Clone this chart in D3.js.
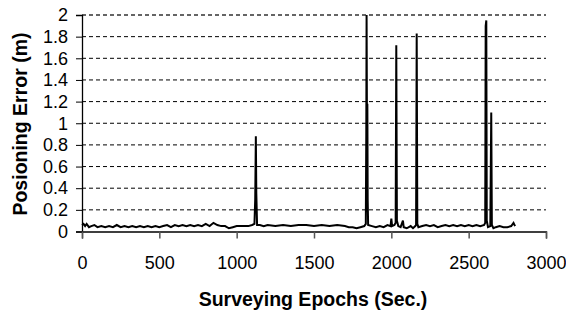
<!DOCTYPE html>
<html><head><meta charset="utf-8">
<script src="https://cdn.jsdelivr.net/npm/d3@7"></script>
<style>body{margin:0;background:#fff}svg{display:block}</style>
</head><body>
<script>
const epochs = [0,10,20,30,45,60,80,100,125,150,175,200,225,250,275,300,325,350,375,400,425,450,475,500,525,550,575,600,625,650,675,700,725,750,775,800,825,850,875,900,925,950,975,1000,1025,1050,1075,1100,1115,1120,1124,1127,1132,1150,1175,1200,1250,1300,1350,1400,1450,1500,1550,1600,1650,1700,1725,1750,1775,1800,1825,1835,1838,1840,1842,1845,1847,1850,1875,1900,1925,1950,1975,1995,2000,2005,2020,2028,2032,2036,2045,2060,2075,2080,2100,2125,2140,2155,2160,2164,2168,2175,2200,2225,2250,2275,2300,2325,2350,2375,2400,2425,2450,2475,2500,2525,2550,2575,2600,2607,2610,2614,2617,2625,2640,2646,2650,2660,2675,2700,2725,2750,2775,2790,2800];
const errors = [0.06,0.07,0.05,0.07,0.04,0.05,0.06,0.04,0.05,0.04,0.05,0.04,0.06,0.04,0.05,0.04,0.05,0.04,0.05,0.04,0.05,0.04,0.05,0.04,0.05,0.06,0.04,0.06,0.05,0.06,0.05,0.06,0.05,0.06,0.05,0.07,0.05,0.08,0.06,0.05,0.05,0.03,0.04,0.05,0.05,0.05,0.05,0.06,0.07,0.3,0.88,0.35,0.06,0.06,0.05,0.06,0.05,0.06,0.05,0.06,0.06,0.05,0.06,0.05,0.06,0.05,0.04,0.04,0.03,0.04,0.05,0.07,0.9,2.0,1.17,1.17,0.3,0.06,0.05,0.04,0.05,0.04,0.06,0.05,0.12,0.05,0.06,0.08,1.72,0.1,0.05,0.04,0.1,0.04,0.03,0.05,0.03,0.05,0.06,1.83,0.07,0.04,0.05,0.06,0.05,0.06,0.04,0.05,0.06,0.05,0.06,0.05,0.06,0.05,0.06,0.05,0.06,0.05,0.06,0.08,1.9,1.95,0.1,0.04,0.05,1.1,0.06,0.03,0.04,0.05,0.04,0.04,0.05,0.08,0.05];
const xTicks = [0,500,1000,1500,2000,2500,3000];
const yTicks = [0,0.2,0.4,0.6,0.8,1,1.2,1.4,1.6,1.8,2];
const xTitle = "Surveying Epochs (Sec.)";
const yTitle = "Posioning Error (m)";

const W=566,H=315;
const FONT="'Liberation Sans', Arial, sans-serif";
const svg=d3.select("body").append("svg").attr("width",W).attr("height",H)
  .style("font-family",FONT);
const x=d3.scaleLinear().domain([0,3000]).range([82,546]);
const y=d3.scaleLinear().domain([0,2]).range([231.5,15]);

// gridlines
svg.append("g").selectAll("line").data(yTicks.filter(d=>d>0)).join("line")
  .attr("x1",82).attr("x2",546).attr("y1",d=>y(d)).attr("y2",d=>y(d))
  .attr("stroke",d=>d===2?"#333":"#000").attr("stroke-width",d=>d===2?1.6:1)
  .attr("stroke-dasharray","4,3");

// y axis
const ya=svg.append("g").attr("transform","translate(82,0)")
  .call(d3.axisLeft(y).tickValues(yTicks).tickFormat(d=>d3.format("")(d)).tickSize(6).tickPadding(8));
ya.select(".domain").attr("stroke","#000").attr("stroke-width",1.3);
ya.selectAll(".tick line").attr("stroke","#000");
ya.selectAll("text").attr("font-size",18).attr("fill","#000").attr("font-family",FONT);

// x axis
const xa=svg.append("g").attr("transform","translate(0,231.5)")
  .call(d3.axisBottom(x).tickValues(xTicks).tickFormat(d3.format("d")).tickSize(7).tickPadding(18));
xa.select(".domain").attr("stroke","#000").attr("stroke-width",1.3);
xa.selectAll(".tick line").attr("stroke","#555").attr("stroke-width",1.5);
xa.selectAll("text").attr("font-size",18).attr("fill","#000").attr("font-family",FONT);

// data line
const line=d3.line().x((d,i)=>x(epochs[i])).y((d,i)=>y(errors[i]));
svg.append("path").datum(errors).attr("d",line).attr("fill","none")
  .attr("stroke","#000").attr("stroke-width",2).attr("stroke-linejoin","miter");

// titles
svg.append("text").attr("x",313).attr("y",306).attr("text-anchor","middle")
  .attr("font-size",19.5).attr("font-weight","bold").text(xTitle);
svg.append("text").attr("transform","translate(27,124) rotate(-90)").attr("text-anchor","middle")
  .attr("font-size",19.5).attr("font-weight","bold").text(yTitle);
</script>
</body></html>
